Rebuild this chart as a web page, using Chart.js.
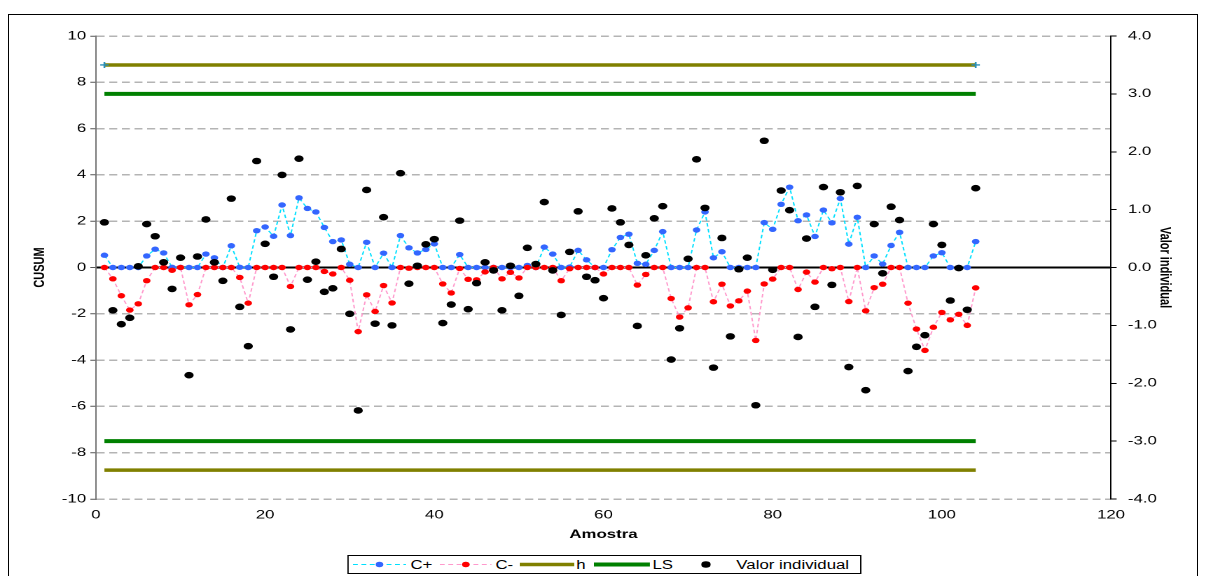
<!DOCTYPE html>
<html><head><meta charset="utf-8">
<script src="https://cdn.jsdelivr.net/npm/chart.js@4/dist/chart.umd.min.js"></script>
<style>
html,body{margin:0;padding:0;background:#fff;width:1206px;height:576px;overflow:hidden;font-family:"Liberation Sans",Arial,sans-serif;}
#frame{position:absolute;left:8px;top:14px;width:1190px;height:620px;border:1.5px solid #000;box-sizing:border-box;}
#wrap{position:absolute;left:0;top:0;width:861px;height:576px;transform:scaleX(1.4007);transform-origin:0 0;}
#cbox{position:absolute;left:0;top:0;width:861px;height:576px;}
#legend{position:absolute;left:247.7px;top:555px;width:367px;height:19px;border:1px solid #000;box-sizing:border-box;background:#fff;}
#legend svg{position:absolute;top:0;}
#legend span{position:absolute;top:1.5px;font-size:12px;line-height:15px;color:#000;white-space:nowrap;}
</style></head>
<body>
<div id="frame"></div>
<div id="wrap">
  <div id="cbox"><canvas id="c"></canvas></div>
  <div id="legend"></div>
</div>
<script>
// ---- data ----
const samples = [1,2,3,4,5,6,7,8,9,10,11,12,13,14,15,16,17,18,19,20,21,22,23,24,25,26,27,28,29,30,31,32,33,34,35,36,37,38,39,40,41,42,43,44,45,46,47,48,49,50,51,52,53,54,55,56,57,58,59,60,61,62,63,64,65,66,67,68,69,70,71,72,73,74,75,76,77,78,79,80,81,82,83,84,85,86,87,88,89,90,91,92,93,94,95,96,97,98,99,100,101,102,103,104];
const cPlus = [0.53,0,0,0,0,0.50,0.79,0.63,0.01,0,
  0,0,0.58,0.42,0,0.94,0.01,0,1.59,1.75,
  1.35,2.70,1.38,3.01,2.55,2.40,1.73,1.12,1.19,0.14,
  0,1.09,0,0.62,0,1.38,0.85,0.63,0.78,1.02,
  0,0,0.56,0,0,0,0,0,0,0,
  0.09,0,0.88,0.58,0,0.02,0.74,0.33,0,0,
  0.77,1.30,1.44,0.18,0.14,0.74,1.55,0,0,0,
  1.62,2.40,0.42,0.68,0,0,0,0,1.94,1.65,
  2.73,3.47,2.02,2.27,1.34,2.48,1.93,2.98,1.01,2.17,
  0,0.50,0.15,0.95,1.52,0,0,0,0.50,0.64,
  0,0,0,1.12];
const cMinus = [0,-0.49,-1.22,-1.84,-1.57,-0.57,0,0,-0.12,0,
  -1.61,-1.17,0,0,0,0,-0.43,-1.54,0,0,
  0,0,-0.82,0,0,0,-0.17,-0.28,0,-0.55,
  -2.77,-1.18,-1.90,-0.78,-1.53,0,-0.03,0,0,0,
  -0.71,-1.10,-0.04,-0.51,-0.53,-0.19,0,-0.49,-0.21,-0.45,
  0,0,0,0,-0.57,-0.05,0,0,0,-0.28,
  0,0,0,-0.76,-0.30,0,0,-1.34,-2.14,-1.74,
  0,0,-1.48,-0.72,-1.66,-1.44,-1.02,-3.15,-0.71,-0.50,
  0,0,-0.95,-0.20,-0.63,0,-0.05,0,-1.47,0,
  -1.87,-0.87,-0.72,0,0,-1.54,-2.66,-3.58,-2.58,-1.94,
  -2.26,-2.02,-2.50,-0.88];
const valorIndividual = [0.78,-0.74,-0.98,-0.87,0.02,0.75,0.54,0.09,-0.37,0.17,
  -1.86,0.19,0.83,0.09,-0.23,1.19,-0.68,-1.36,1.84,0.41,
  -0.16,1.60,-1.07,1.88,-0.21,0.10,-0.42,-0.36,0.32,-0.80,
  -2.47,1.34,-0.97,0.87,-1.00,1.63,-0.28,0.03,0.40,0.49,
  -0.96,-0.64,0.81,-0.72,-0.27,0.09,-0.05,-0.74,0.03,-0.49,
  0.34,0.06,1.13,-0.05,-0.82,0.27,0.97,-0.16,-0.22,-0.53,
  1.02,0.78,0.39,-1.01,0.21,0.85,1.06,-1.59,-1.05,0.15,
  1.87,1.03,-1.73,0.51,-1.19,-0.03,0.17,-2.38,2.19,-0.04,
  1.33,0.99,-1.20,0.50,-0.68,1.39,-0.30,1.30,-1.72,1.41,
  -2.12,0.75,-0.10,1.05,0.82,-1.79,-1.37,-1.17,0.75,0.39,
  -0.57,-0.01,-0.73,1.37];
const hLevel = 8.75;
const lsLevel = 7.5;
const limitStart = 1;
const limitEnd = 104;
const xTickRange = [0, 120, 20];
const leftTickRange = [-10, 10, 2];
const rightTickRange = [-4, 4, 1];
const labels = {cplus:'C+', cminus:'C-', h:'h', ls:'LS', valor:'Valor individual', x:'Amostra', y:'CUSUM', y1:'Valor individual'};

// ---- build ----
const FONT = "'Liberation Sans', Arial, sans-serif";
Chart.defaults.font.family = FONT;
Chart.defaults.color = '#000';
const toXY = ys => samples.map((x, i) => ({x: x, y: ys[i]}));
const limitPair = lvl => [{x:limitStart,y:lvl},{x:limitEnd,y:lvl},{x:limitEnd,y:null},{x:limitStart,y:-lvl},{x:limitEnd,y:-lvl}];

const datasets = [
  {label:labels.valor, data:toXY(valorIndividual), yAxisID:'y1', showLine:false, order:0,
   pointRadius:3.3, pointBackgroundColor:'#000', pointBorderColor:'#000', pointBorderWidth:0},
  {label:labels.cminus, data:toXY(cMinus), yAxisID:'y', order:1, borderColor:'#FF99CC', borderWidth:1, borderDash:[3.5,2.5],
   pointRadius:2.7, pointBackgroundColor:'#FF0000', pointBorderColor:'#FF0000', pointBorderWidth:0},
  {label:labels.cplus, data:toXY(cPlus), yAxisID:'y', order:2, borderColor:'#00E0FF', borderWidth:1, borderDash:[3.5,2.5],
   pointRadius:2.7, pointBackgroundColor:'#3366FF', pointBorderColor:'#3366FF', pointBorderWidth:0},
  {label:labels.h, data:limitPair(hLevel), yAxisID:'y', order:3, borderColor:'#808000', borderWidth:3.5, spanGaps:false,
   pointStyle:'cross', pointRadius:[3,3,0,0,0], pointBorderColor:'#2a8fb8', pointBorderWidth:1.3},
  {label:labels.ls, data:limitPair(lsLevel), yAxisID:'y', order:4, borderColor:'#008000', borderWidth:4, spanGaps:false,
   pointRadius:0}
];

const tickFont = {family:FONT, size:12};
new Chart(document.getElementById('c'), {
  type:'line',
  data:{datasets:datasets},
  options:{
    responsive:true, maintainAspectRatio:false, animation:false, devicePixelRatio:2,
    parsing:true,
    layout:{padding:{left:22, right:23, top:36, bottom:34}},
    plugins:{legend:{display:false}, tooltip:{enabled:false}},
    scales:{
      x:{type:'linear', position:'bottom', min:xTickRange[0], max:xTickRange[1],
         ticks:{stepSize:xTickRange[2], font:tickFont, color:'#000', padding:9, maxRotation:0},
         grid:{display:false, drawTicks:false}, border:{display:false},
         title:{display:true, text:labels.x, font:{family:FONT, size:12, weight:'bold'}, padding:0, color:'#000'},
         afterFit:s=>{s.height=43;}},
      y:{type:'linear', position:'left', min:leftTickRange[0], max:leftTickRange[1],
         ticks:{stepSize:leftTickRange[2], font:tickFont, color:'#000', padding:3},
         grid:{color:c=>(c.tick && c.tick.value===0)?'#000':'#b4b4b4',
               lineWidth:c=>(c.tick && c.tick.value===0)?2:1.5,
               tickLength:4, tickColor:'#555', tickWidth:1},
         border:{color:'#777', width:1, dash:c=>(c.tick && c.tick.value!==0)?[5.7,3.3]:[]},
         title:{display:true, text:labels.y, font:{family:FONT, size:11, weight:'bold'}, padding:0, color:'#000'},
         afterFit:s=>{s.width=46.5;}},
      y1:{type:'linear', position:'right', min:rightTickRange[0], max:rightTickRange[1],
         ticks:{stepSize:rightTickRange[2], font:tickFont, color:'#000', padding:8, callback:v=>Number(v).toFixed(1)},
         grid:{drawOnChartArea:false, tickLength:4, tickColor:'#000', tickWidth:1},
         border:{color:'#000', width:1},
         title:{display:true, text:labels.y1, font:{family:FONT, size:11, weight:'bold'}, padding:0, color:'#000'},
         afterFit:s=>{s.width=44.8;}}
    }
  }
});

// ---- HTML legend built from the datasets ----
const legendLayout = [
  {key:'cplus', g:3.6, w:37.8, t:44.3},
  {key:'cminus', g:65, w:37.1, t:105},
  {key:'h', g:122.1, w:39.3, t:162.8},
  {key:'ls', g:174.9, w:40, t:217.1},
  {key:'valor', g:248.6, w:14, t:277}
];
const byLabel = {};
datasets.forEach(d => byLabel[d.label] = d);
const leg = document.getElementById('legend');
const NS = 'http://www.w3.org/2000/svg';
legendLayout.forEach(item => {
  const d = byLabel[labels[item.key]];
  const svg = document.createElementNS(NS, 'svg');
  svg.setAttribute('width', item.w); svg.setAttribute('height', 17);
  svg.style.left = item.g + 'px';
  const cy = 8.5;
  if (d.showLine !== false) {
    const ln = document.createElementNS(NS, 'line');
    ln.setAttribute('x1', 0); ln.setAttribute('x2', item.w); ln.setAttribute('y1', cy); ln.setAttribute('y2', cy);
    ln.setAttribute('stroke', d.borderColor); ln.setAttribute('stroke-width', d.borderWidth);
    if (d.borderDash) ln.setAttribute('stroke-dasharray', d.borderDash.join(' '));
    svg.appendChild(ln);
  }
  const r = Array.isArray(d.pointRadius) ? 0 : d.pointRadius;
  if (r > 0) {
    const c = document.createElementNS(NS, 'circle');
    c.setAttribute('cx', item.w/2); c.setAttribute('cy', cy); c.setAttribute('r', r);
    c.setAttribute('fill', d.pointBackgroundColor);
    svg.appendChild(c);
  }
  leg.appendChild(svg);
  const sp = document.createElement('span');
  sp.textContent = d.label;
  sp.style.left = item.t + 'px';
  leg.appendChild(sp);
});
</script>
</body></html>
